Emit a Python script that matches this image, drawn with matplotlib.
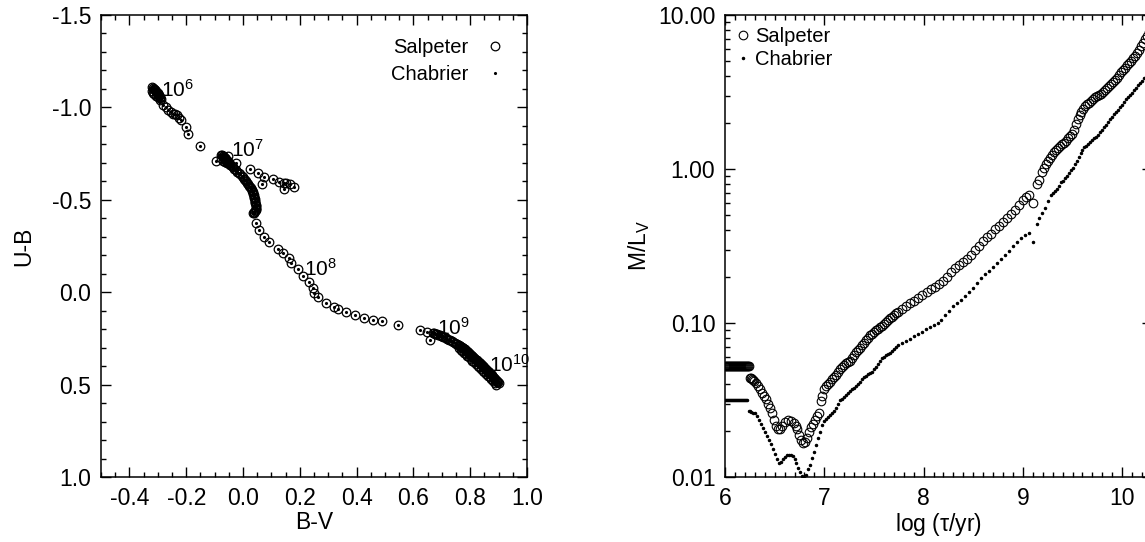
import matplotlib
matplotlib.use("Agg")
import matplotlib.pyplot as plt
from matplotlib.ticker import MultipleLocator, FixedLocator, FixedFormatter, LogLocator, NullFormatter

plt.rcParams['font.family'] = ['Liberation Sans', 'DejaVu Sans']
plt.rcParams['mathtext.fontset'] = 'custom'
plt.rcParams['mathtext.rm'] = 'Liberation Sans'
plt.rcParams['mathtext.it'] = 'Liberation Sans'
plt.rcParams['axes.unicode_minus'] = False

# ---- left panel: colour track (Salpeter and Chabrier overlap) ----
bv = [-0.322, -0.318, -0.315, -0.313, -0.311, -0.309, -0.307, -0.305, -0.303, -0.301,
      -0.299, -0.297, -0.295, -0.293, -0.291, -0.289, -0.320, -0.316, -0.312, -0.306,
      -0.300, -0.294,
      -0.281, -0.272, -0.264, -0.255, -0.245, -0.238, -0.234, -0.225, -0.217, -0.202,
      -0.194, -0.150, -0.094,
      -0.078, -0.075, -0.072, -0.070, -0.068, -0.066, -0.064, -0.062, -0.060, -0.058,
      -0.056, -0.054, -0.050, -0.046, -0.076, -0.070, -0.064, -0.058, -0.052,
      -0.024, 0.023, 0.052, 0.075, 0.105, 0.128, 0.145, 0.152, 0.165, 0.181, 0.067, 0.146,
      -0.065, -0.060, -0.055, -0.050, -0.045, -0.040, -0.035, -0.030, -0.025, -0.020,
      -0.015, -0.010, -0.005, 0.000, 0.004, 0.008, 0.012, 0.015, 0.018, 0.021,
      0.024, 0.027, 0.030, 0.032, 0.034, 0.036, 0.038, 0.039, 0.040, 0.041,
      0.042, 0.043, 0.044, 0.045, 0.046, 0.046, 0.046, 0.045, 0.043, 0.040,
      0.037, 0.034,
      0.046, 0.058, 0.075, 0.093, 0.122, 0.140, 0.163, 0.169, 0.192, 0.212, 0.231,
      0.245, 0.251, 0.265, 0.292, 0.321, 0.336, 0.362, 0.395, 0.426, 0.458, 0.491,
      0.547, 0.623, 0.648, 0.660,
      0.668, 0.672, 0.676, 0.680, 0.684, 0.688, 0.692, 0.696,
      0.700, 0.705, 0.710, 0.715, 0.720, 0.725, 0.730, 0.735, 0.740, 0.745,
      0.750, 0.755, 0.760, 0.765, 0.770, 0.775, 0.780, 0.785, 0.790, 0.795,
      0.800, 0.805, 0.810, 0.815, 0.820, 0.825, 0.830, 0.835, 0.840, 0.845,
      0.850, 0.855, 0.860, 0.865, 0.870, 0.875, 0.880, 0.885, 0.890, 0.893,
      0.896, 0.898, 0.900,
      0.763, 0.767, 0.773, 0.777, 0.783, 0.787, 0.793, 0.797, 0.803, 0.807,
      0.813, 0.817, 0.823, 0.827, 0.833, 0.837, 0.843, 0.847, 0.853, 0.857,
      0.863, 0.867, 0.873, 0.877, 0.883, 0.887,
      0.760, 0.766, 0.772, 0.778, 0.784, 0.790, 0.796, 0.802, 0.808, 0.814,
      0.820, 0.826, 0.832, 0.838, 0.844, 0.850, 0.856, 0.862, 0.868, 0.874,
      0.880, 0.886, 0.892]
ub = [-1.108, -1.104, -1.100, -1.098, -1.095, -1.092, -1.088, -1.084, -1.080, -1.076,
      -1.072, -1.068, -1.063, -1.058, -1.052, -1.046, -1.090, -1.080, -1.070, -1.062,
      -1.055, -1.040,
      -1.013, -1.000, -0.986, -0.975, -0.965, -0.962, -0.959, -0.945, -0.932, -0.896,
      -0.856, -0.791, -0.710,
      -0.745, -0.742, -0.738, -0.735, -0.732, -0.729, -0.726, -0.722, -0.718, -0.714,
      -0.710, -0.706, -0.700, -0.694, -0.725, -0.712, -0.705, -0.698, -0.735,
      -0.701, -0.665, -0.643, -0.625, -0.611, -0.598, -0.592, -0.589, -0.585, -0.568, -0.585, -0.558,
      -0.720, -0.712, -0.705, -0.698, -0.690, -0.682, -0.675, -0.667, -0.660, -0.652,
      -0.645, -0.637, -0.630, -0.622, -0.615, -0.607, -0.600, -0.592, -0.585, -0.577,
      -0.570, -0.562, -0.555, -0.547, -0.540, -0.532, -0.525, -0.517, -0.510, -0.502,
      -0.495, -0.487, -0.480, -0.472, -0.465, -0.457, -0.450, -0.443, -0.437, -0.432,
      -0.428, -0.427,
      -0.373, -0.337, -0.300, -0.273, -0.232, -0.210, -0.183, -0.160, -0.124, -0.088, -0.057,
      -0.021, 0.003, 0.028, 0.057, 0.078, 0.091, 0.105, 0.123, 0.138, 0.150, 0.156,
      0.177, 0.205, 0.214, 0.259,
      0.220, 0.222, 0.224, 0.226, 0.228, 0.231, 0.233, 0.235,
      0.238, 0.241, 0.245, 0.248, 0.252, 0.256, 0.260, 0.264, 0.268, 0.273,
      0.278, 0.283, 0.288, 0.293, 0.298, 0.304, 0.310, 0.316, 0.322, 0.329,
      0.336, 0.343, 0.350, 0.357, 0.365, 0.372, 0.380, 0.387, 0.395, 0.402,
      0.410, 0.417, 0.425, 0.432, 0.440, 0.449, 0.458, 0.466, 0.475, 0.480,
      0.485, 0.488, 0.490,
      0.291, 0.295, 0.302, 0.306, 0.314, 0.318, 0.326, 0.332, 0.340, 0.346,
      0.354, 0.361, 0.369, 0.376, 0.384, 0.391, 0.399, 0.406, 0.414, 0.421,
      0.429, 0.436, 0.445, 0.453, 0.463, 0.470,
      0.304, 0.312, 0.319, 0.327, 0.335, 0.343, 0.352, 0.361, 0.370, 0.379,
      0.388, 0.397, 0.406, 0.415, 0.424, 0.433, 0.442, 0.451, 0.460, 0.470,
      0.480, 0.490, 0.500]

age_labels = [r'$\mathregular{10^{6}}$', r'$\mathregular{10^{7}}$', r'$\mathregular{10^{8}}$',
              r'$\mathregular{10^{9}}$', r'$\mathregular{10^{10}}$']
age_label_bv = [-0.289, -0.041, 0.216, 0.684, 0.865]
age_label_ub = [-1.094, -0.769, -0.124, 0.195, 0.394]

# ---- right panel: M/L_V vs age ----
logt_salp = [6.00, 6.01, 6.02, 6.03, 6.04, 6.05, 6.06, 6.07, 6.08, 6.09, 6.10, 6.11, 6.12,
             6.13, 6.14, 6.15, 6.16, 6.17, 6.18, 6.19, 6.20, 6.21, 6.22, 6.23, 6.24,
             6.25, 6.26, 6.27, 6.28, 6.29, 6.31, 6.33, 6.35, 6.37, 6.39, 6.41, 6.43, 6.45, 6.47, 6.49,
             6.51, 6.53, 6.55, 6.57, 6.60, 6.63, 6.66, 6.69, 6.71, 6.73, 6.75, 6.77, 6.79,
             6.81, 6.83, 6.85, 6.87, 6.89, 6.91, 6.93, 6.95, 6.97, 6.98, 7.00, 7.02, 7.04,
             7.06, 7.08, 7.10, 7.12, 7.14, 7.16, 7.18, 7.20, 7.22, 7.24, 7.26, 7.28, 7.30,
             7.32, 7.34, 7.36, 7.38, 7.40, 7.42, 7.44, 7.46, 7.48, 7.50, 7.52, 7.54, 7.56,
             7.58, 7.60, 7.62, 7.64, 7.66, 7.68, 7.70, 7.72, 7.74, 7.78, 7.82, 7.86, 7.90,
             7.94, 7.98, 8.03, 8.07, 8.11, 8.15, 8.20, 8.24, 8.28, 8.32, 8.36, 8.40, 8.44,
             8.48, 8.52, 8.56, 8.60, 8.64, 8.68, 8.72, 8.76, 8.80, 8.84, 8.88, 8.92, 8.96,
             9.00, 9.03, 9.06, 9.10, 9.14, 9.16, 9.19, 9.21, 9.23, 9.25, 9.27, 9.29, 9.31,
             9.33, 9.35, 9.37, 9.39, 9.41, 9.43, 9.45, 9.47, 9.49, 9.51, 9.53, 9.55, 9.57,
             9.59, 9.61, 9.63, 9.65, 9.67, 9.69, 9.71, 9.73, 9.75, 9.77, 9.79, 9.81, 9.83,
             9.85, 9.87, 9.89, 9.91, 9.93, 9.95, 9.97, 9.99, 10.01, 10.03, 10.05, 10.07,
             10.09, 10.11, 10.13, 10.15, 10.17, 10.19, 10.21, 10.23, 10.25, 10.27, 10.29]
ml_salp = [0.0526, 0.0526, 0.0526, 0.0526, 0.0526, 0.0526, 0.0526, 0.0526, 0.0526, 0.0526, 0.0526, 0.0526, 0.0526,
           0.0526, 0.0526, 0.0526, 0.0526, 0.0526, 0.0526, 0.0526, 0.0526, 0.0526, 0.0526, 0.0526, 0.0526,
           0.0440, 0.0438, 0.0435, 0.0428, 0.0420, 0.0410, 0.0390, 0.0370, 0.0350, 0.0335, 0.0320, 0.0300, 0.0280, 0.0260, 0.0235,
           0.0215, 0.0205, 0.0205, 0.0215, 0.0228, 0.0234, 0.0232, 0.0225, 0.0215, 0.0205, 0.0188, 0.0175, 0.0167,
           0.0170, 0.0180, 0.0195, 0.0210, 0.0222, 0.0235, 0.0250, 0.0262, 0.0310, 0.0335, 0.0370, 0.0390, 0.0400,
           0.0415, 0.0430, 0.0445, 0.0460, 0.0480, 0.0500, 0.0520, 0.0535, 0.0550, 0.0560, 0.0570, 0.0590, 0.0620,
           0.0650, 0.0670, 0.0690, 0.0715, 0.0740, 0.0770, 0.0800, 0.0830, 0.0850, 0.0870, 0.0900, 0.0920, 0.0940,
           0.0960, 0.0990, 0.102, 0.105, 0.108, 0.110, 0.113, 0.116, 0.118, 0.124, 0.128, 0.134, 0.139,
           0.145, 0.152, 0.160, 0.166, 0.172, 0.178, 0.188, 0.200, 0.214, 0.226, 0.238, 0.250, 0.262,
           0.278, 0.298, 0.318, 0.340, 0.360, 0.380, 0.405, 0.428, 0.452, 0.480, 0.510, 0.545, 0.585,
           0.625, 0.660, 0.680, 0.600, 0.800, 0.850, 0.960, 1.02, 1.07, 1.12, 1.18, 1.24, 1.29,
           1.33, 1.37, 1.41, 1.45, 1.48, 1.53, 1.58, 1.64, 1.70, 1.80, 1.95, 2.10, 2.24,
           2.35, 2.45, 2.55, 2.63, 2.70, 2.78, 2.85, 2.92, 2.98, 3.03, 3.09, 3.15, 3.25,
           3.37, 3.48, 3.58, 3.68, 3.78, 3.90, 4.05, 4.25, 4.40, 4.55, 4.72, 4.88,
           5.05, 5.25, 5.45, 5.70, 5.95, 6.25, 6.60, 6.95, 7.30, 7.70, 8.10]

logt_chab = [6.00, 6.01, 6.02, 6.03, 6.04, 6.05, 6.06, 6.07, 6.08, 6.09, 6.10, 6.11, 6.12,
             6.13, 6.14, 6.15, 6.16, 6.17, 6.18, 6.19, 6.20, 6.21, 6.22,
             6.24, 6.25, 6.26, 6.28, 6.30, 6.32, 6.34, 6.36, 6.38, 6.40, 6.42, 6.44, 6.46, 6.48,
             6.50, 6.52, 6.54, 6.56, 6.58, 6.60, 6.62, 6.64, 6.66, 6.68, 6.70, 6.72, 6.74,
             6.76, 6.78, 6.80, 6.82, 6.84, 6.86, 6.88, 6.90, 6.92, 6.94, 6.96, 6.98, 7.00,
             7.02, 7.04, 7.06, 7.08, 7.10, 7.12, 7.14, 7.16, 7.18, 7.20, 7.22, 7.24, 7.26,
             7.28, 7.30, 7.32, 7.34, 7.36, 7.38, 7.40, 7.42, 7.44, 7.46, 7.48, 7.50, 7.52,
             7.54, 7.56, 7.58, 7.60, 7.62, 7.64, 7.66, 7.68, 7.70, 7.72, 7.74, 7.78, 7.82,
             7.86, 7.90, 7.94, 7.98, 8.02, 8.06, 8.10, 8.14, 8.18, 8.22, 8.26, 8.30, 8.34,
             8.38, 8.42, 8.46, 8.50, 8.54, 8.58, 8.62, 8.66, 8.70, 8.74, 8.78, 8.82, 8.86,
             8.90, 8.94, 8.98, 9.02, 9.06, 9.10, 9.14, 9.16, 9.19, 9.22, 9.25, 9.28, 9.30,
             9.32, 9.34, 9.36, 9.38, 9.40, 9.42, 9.44, 9.46, 9.48, 9.50, 9.52, 9.54, 9.56,
             9.58, 9.60, 9.62, 9.64, 9.66, 9.68, 9.70, 9.72, 9.74, 9.76, 9.78, 9.80, 9.82,
             9.84, 9.86, 9.88, 9.90, 9.92, 9.94, 9.96, 9.98, 10.00, 10.02, 10.04, 10.06,
             10.08, 10.10, 10.12, 10.14, 10.16, 10.18, 10.20, 10.22, 10.24, 10.26, 10.28]
ml_chab = [0.0315, 0.0315, 0.0315, 0.0315, 0.0315, 0.0315, 0.0315, 0.0315, 0.0315, 0.0315, 0.0315, 0.0315, 0.0315,
           0.0315, 0.0315, 0.0315, 0.0315, 0.0315, 0.0315, 0.0315, 0.0315, 0.0315, 0.0315,
           0.0270, 0.0268, 0.0265, 0.0262, 0.0260, 0.0250, 0.0235, 0.0220, 0.0208, 0.0196, 0.0185, 0.0174, 0.0163, 0.0152,
           0.0142, 0.0131, 0.0124, 0.0125, 0.0130, 0.0135, 0.0138, 0.0139, 0.0138, 0.0136, 0.0130, 0.0124, 0.0115,
           0.0108, 0.0102, 0.0099, 0.0103, 0.0112, 0.0120, 0.0132, 0.0146, 0.0162, 0.0180, 0.0197, 0.0218, 0.0232,
           0.0238, 0.0245, 0.0252, 0.0260, 0.0268, 0.0280, 0.0300, 0.0315, 0.0323, 0.0333, 0.0343, 0.0352, 0.0360,
           0.0370, 0.0380, 0.0390, 0.0400, 0.0415, 0.0430, 0.0445, 0.0455, 0.0465, 0.0470, 0.0480, 0.0500, 0.0520,
           0.0545, 0.0570, 0.0590, 0.0605, 0.0620, 0.0630, 0.0640, 0.0660, 0.0680, 0.0700, 0.0725, 0.0745, 0.0760,
           0.0790, 0.0820, 0.0850, 0.0880, 0.0910, 0.0940, 0.0970, 0.100, 0.105, 0.112, 0.120, 0.128, 0.135,
           0.142, 0.150, 0.158, 0.170, 0.182, 0.195, 0.207, 0.219, 0.232, 0.246, 0.260, 0.277, 0.295,
           0.315, 0.338, 0.355, 0.370, 0.382, 0.337, 0.440, 0.478, 0.520, 0.560, 0.620, 0.680, 0.700,
           0.720, 0.740, 0.780, 0.820, 0.840, 0.870, 0.900, 0.940, 0.980, 1.02, 1.07, 1.13, 1.20,
           1.27, 1.33, 1.38, 1.42, 1.46, 1.50, 1.54, 1.58, 1.62, 1.67, 1.73, 1.79, 1.86,
           1.94, 2.02, 2.10, 2.18, 2.26, 2.33, 2.42, 2.52, 2.62, 2.72, 2.83, 2.92,
           3.02, 3.12, 3.24, 3.36, 3.50, 3.63, 3.75, 3.87, 3.98, 4.10, 4.25]

W, H = 1145, 542
fig = plt.figure(figsize=(W / 100, H / 100), dpi=100)
ax1 = fig.add_axes([101 / W, 65 / H, 426 / W, 462 / H])
ax2 = fig.add_axes([725 / W, 65 / H, 427 / W, 462 / H])

FS = 16.5
for ax in (ax1, ax2):
    for s in ax.spines.values():
        s.set_linewidth(1.1)
    ax.tick_params(which='both', direction='in', top=True, right=True, width=1.0,
                   labelsize=FS, pad=7)
    ax.tick_params(which='major', length=7)
    ax.tick_params(which='minor', length=3.5)

# left
ax1.plot(bv, ub, 'o', ms=6.2, mfc='none', mec='black', mew=0.9, label='Salpeter')
ax1.plot(bv, ub, '.', ms=2.5, color='black', label='Chabrier')
for lab, x, y in zip(age_labels, age_label_bv, age_label_ub):
    ax1.text(x, y, lab, fontsize=15, ha='left', va='center')
ax1.set_xlim(-0.5, 1.0)
ax1.set_ylim(1.0, -1.5)
ax1.xaxis.set_major_locator(FixedLocator([-0.4, -0.2, 0.0, 0.2, 0.4, 0.6, 0.8, 1.0]))
ax1.xaxis.set_major_formatter(FixedFormatter(['-0.4', '-0.2', '0.0', '0.2', '0.4', '0.6', '0.8', '1.0']))
ax1.xaxis.set_minor_locator(MultipleLocator(0.05))
ax1.yaxis.set_major_locator(FixedLocator([-1.5, -1.0, -0.5, 0.0, 0.5, 1.0]))
ax1.yaxis.set_major_formatter(FixedFormatter(['-1.5', '-1.0', '-0.5', '0.0', '0.5', '1.0']))
ax1.yaxis.set_minor_locator(MultipleLocator(0.1))
ax1.set_xlabel('B-V', fontsize=FS, labelpad=1)
ax1.set_ylabel('U-B', fontsize=FS, labelpad=12)
ax1.legend(loc='upper right', markerfirst=False, frameon=False, fontsize=14.5,
           handlelength=1.0, handletextpad=0.8, labelspacing=0.4,
           bbox_to_anchor=(0.99, 0.99))

# right
ax2.plot(logt_salp, ml_salp, 'o', ms=6.2, mfc='none', mec='black', mew=0.8, label='Salpeter')
ax2.plot(logt_chab, ml_chab, '.', ms=3, color='black', label='Chabrier')
ax2.set_yscale('log')
ax2.set_xlim(6, 10.3)
ax2.set_ylim(0.01, 10)
ax2.xaxis.set_major_locator(FixedLocator([6, 7, 8, 9, 10]))
ax2.xaxis.set_major_formatter(FixedFormatter(['6', '7', '8', '9', '10']))
ax2.xaxis.set_minor_locator(MultipleLocator(0.1))
ax2.yaxis.set_major_locator(FixedLocator([0.01, 0.1, 1, 10]))
ax2.yaxis.set_major_formatter(FixedFormatter(['0.01', '0.10', '1.00', '10.00']))
ax2.yaxis.set_minor_locator(LogLocator(base=10, subs=[2, 3, 4, 5, 6, 7, 8, 9]))
ax2.yaxis.set_minor_formatter(NullFormatter())
ax2.set_xlabel(r'log ($\tau$/yr)', fontsize=FS, labelpad=1)
ax2.set_ylabel(r'M/L$_\mathregular{V}$', fontsize=FS, labelpad=4)
ax2.legend(loc='upper left', frameon=False, fontsize=14.5, handlelength=0.6,
           handletextpad=0.3, labelspacing=0.2, borderaxespad=0.2)

fig.savefig('out.png', dpi=100)
